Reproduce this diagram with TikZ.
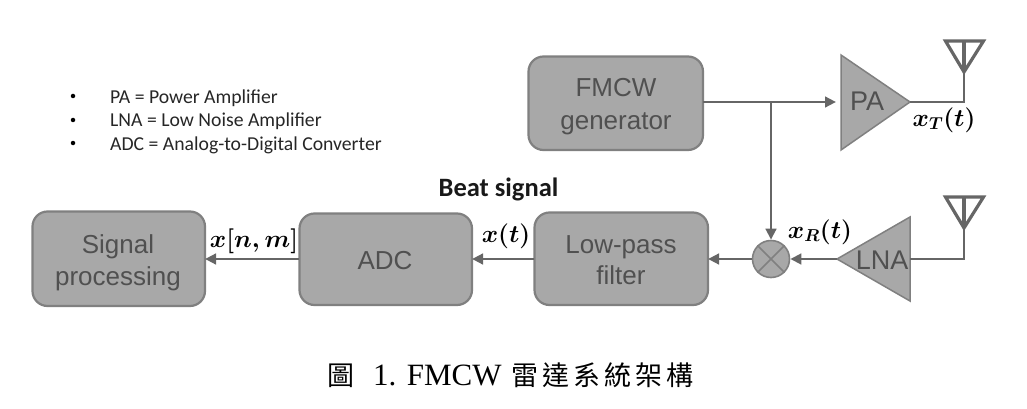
\documentclass[tikz,border=0pt]{standalone}
\usepackage{amsmath}
\usepackage{fontspec}
\setmainfont{Liberation Sans}
\newfontfamily\legendfont{Carlito}
\newfontfamily\capfont{Liberation Serif}
\newfontfamily\cjk[LetterSpace=15]{Noto Sans CJK TC}
\usetikzlibrary{arrows.meta}
\definecolor{blockfill}{HTML}{A8A8A8}
\definecolor{blockline}{HTML}{808080}
\definecolor{wire}{HTML}{666666}
\definecolor{blocktext}{HTML}{505050}
\newcommand{\fs}[1]{\fontsize{#1}{#1}\selectfont}
\tikzset{
  x=1pt,y=-1pt,
  block/.style={draw=blockline,line width=2.2pt,fill=blockfill,rounded corners=15pt},
  blocklabel/.style={text=blocktext,align=center,inner sep=0pt,font=\fs{26}},
  amp/.style={draw=blockline,line width=1.5pt,fill=blockfill,line join=miter},
  amptext/.style={text=blocktext,inner sep=0pt,font=\fs{27}},
  wire/.style={draw=wire,line width=2.8pt},
  arrow/.style={wire,-{Triangle[length=11pt,width=10.5pt]}},
  aerial/.style={draw=wire,line width=3.2pt,line join=miter},
  sym/.style={inner sep=0pt,text=black,font=\fs{23}},
  legend/.style={inner sep=0pt,anchor=base west,text=black!85,font=\legendfont\fs{19.7}},
}
\begin{document}
\begin{tikzpicture}
\useasboundingbox (0,0) rectangle (1027,409);
% blocks
\path[block] (528.5,56.5) rectangle (703,150);
\node[blocklabel] (fmcw) at (616,106.5) {FMCW\\[7pt]generator};
\path[block] (32.5,211.5) rectangle (205,306);
\node[blocklabel] (sp) at (118,263) {Signal\\[6pt]processing};
\path[block] (299.5,213.5) rectangle (472,305);
\node[blocklabel] (adc) at (385,260.5) {ADC};
\path[block] (534.5,212.5) rectangle (708,305);
\node[blocklabel] (lpf) at (621,260.5) {Low-pass\\[5pt]filter};
% named anchors
\coordinate (fmcwE) at (703,102);
\coordinate (spE) at (205,259);
\coordinate (adcW) at (299,259);
\coordinate (adcE) at (472,259);
\coordinate (lpfW) at (534,259);
\coordinate (lpfE) at (708,259);
\coordinate (tap) at (771,102);
\coordinate (paW) at (836,102);
\coordinate (paA) at (910,102);
\coordinate (lnaA) at (837,259);
\coordinate (lnaE) at (910,259);
\coordinate (a1) at (964,72);
\coordinate (a1s) at (964,102);
\coordinate (a2) at (964,228);
\coordinate (a2s) at (964,259);
% amplifiers
\path[amp] (841,55) -- (paA) -- (841,150) -- cycle;
\node[amptext] (pa) at (867,101.5) {PA};
\path[amp] (lnaA) -- (910,217) -- (910,301) -- cycle;
\node[amptext] (lna) at (882,260) {LNA};
% mixer
\node[circle,draw=blockline,line width=1.6pt,fill=blockfill,minimum size=37pt,inner sep=0pt] (mix) at (771,259) {};
\draw[blockline,line width=1.6pt] (mix.45) -- (mix.225) (mix.135) -- (mix.315);
% wires
\draw[arrow] (fmcwE) -- (paW);
\draw[arrow] (tap) -- (mix.north);
\draw[wire] (paA) -- (a1s) -- (a1);
\draw[wire] (lnaE) -- (a2s) -- (a2);
\draw[arrow] (lnaA) -- (mix.east);
\draw[arrow] (mix.west) -- (lpfE);
\draw[arrow] (lpfW) -- (adcE);
\draw[arrow] (adcW) -- (spE);
% antennas
\draw[aerial] (945.5,41) -- (983.5,41) -- (a1) -- cycle;
\draw[aerial] (964,41) -- (a1);
\draw[aerial] (945.5,197) -- (983.5,197) -- (a2) -- cycle;
\draw[aerial] (964,197) -- (a2);
% signal labels
\node[sym] (xt) at (944,120) {$\boldsymbol{x_T(t)}$};
\node[sym] (xr) at (820,232) {$\boldsymbol{x_R(t)}$};
\node[sym] (xnm) at (254,241) {$\boldsymbol{x[n,m]}$};
\node[sym] (xx) at (506,236) {$\boldsymbol{x(t)}$};
\node[inner sep=0pt,font=\legendfont\bfseries\fs{26.5},text=black!90] (beat) at (498.5,189) {Beat signal};
% legend
\node[legend] (l1) at (110,103) {PA = Power Amplifier};
\node[legend] (l2) at (110,127) {LNA = Low Noise Amplifier};
\node[legend] (l3) at (110,150) {ADC = Analog-to-Digital Converter};
\foreach \y/\n in {96/b1,120/b2,143/b3}
  \node[circle,fill=black,inner sep=0pt,minimum size=4.5pt] (\n) at (73,\y) {};
% caption
\node[inner sep=0pt,anchor=base west,font=\fs{27}] (capA) at (327,385) {\cjk 圖};
\node[inner sep=0pt,anchor=base west,font=\capfont\fs{31}] (capB) at (373,385) {1. FMCW};
\node[inner sep=0pt,anchor=base west,font=\fs{27}] (capC) at (511,385) {\cjk 雷達系統架構};
\end{tikzpicture}
\end{document}
